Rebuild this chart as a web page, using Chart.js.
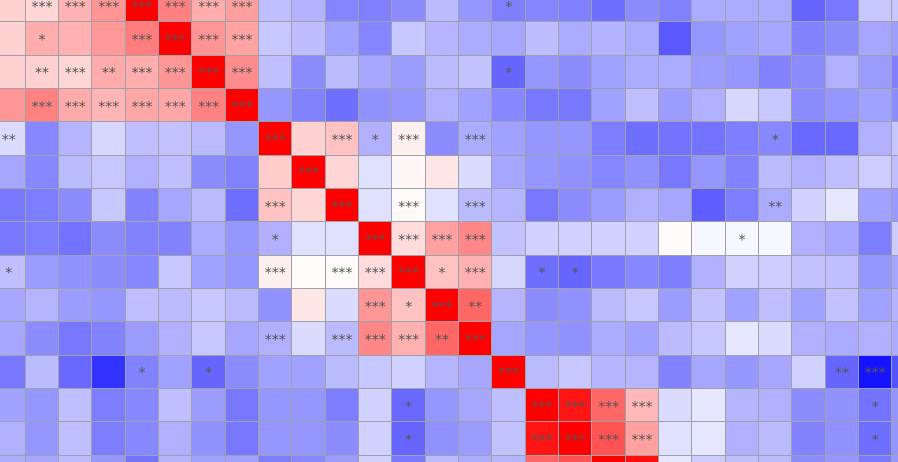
<!DOCTYPE html>
<html>
<head>
<meta charset="utf-8">
<script src="https://cdn.jsdelivr.net/npm/chart.js@4/dist/chart.umd.min.js"></script>
<style>
  html, body { margin: 0; padding: 0; background: #fff; }
  #wrap { width: 898px; height: 462px; }
</style>
</head>
<body>
<div id="wrap"><canvas id="heatmap"></canvas></div>
<script>
// correlation values, one array per visible row (28 visible columns)
const r0  = [0.18, 0.16, 0.30, 0.42, 1, 0.50, 0.32, 0.38, -0.25, -0.30, -0.48, -0.50, -0.45, -0.27, -0.41, -0.50, -0.48, -0.50, -0.57, -0.45, -0.49, -0.33, -0.33, -0.33, -0.60, -0.53, -0.22, -0.22];
const r1  = [0.18, 0.32, 0.31, 0.40, 0.51, 1, 0.42, 0.36, -0.22, -0.26, -0.37, -0.48, -0.22, -0.29, -0.33, -0.35, -0.26, -0.33, -0.30, -0.33, -0.65, -0.41, -0.37, -0.35, -0.49, -0.45, -0.35, -0.38];
const r2  = [0.18, 0.18, 0.16, 0.33, 0.32, 0.41, 1, 0.45, -0.25, -0.45, -0.27, -0.35, -0.39, -0.27, -0.24, -0.60, -0.41, -0.45, -0.37, -0.33, -0.33, -0.39, -0.41, -0.49, -0.45, -0.31, -0.39, -0.50];
const r3  = [0.41, 0.49, 0.33, 0.29, 0.35, 0.35, 0.49, 1, -0.41, -0.49, -0.57, -0.43, -0.41, -0.31, -0.37, -0.47, -0.53, -0.53, -0.37, -0.25, -0.39, -0.31, -0.16, -0.22, -0.45, -0.41, -0.37, -0.45];
const r4  = [-0.14, -0.47, -0.29, -0.16, -0.25, -0.24, -0.27, -0.41, 1, 0.18, 0.24, -0.31, 0.06, -0.45, -0.33, -0.37, -0.41, -0.41, -0.51, -0.57, -0.55, -0.55, -0.51, -0.47, -0.59, -0.59, -0.31, -0.22];
const r5  = [-0.35, -0.47, -0.27, -0.22, -0.31, -0.25, -0.45, -0.49, 0.20, 1, 0.16, -0.12, 0.03, 0.10, -0.14, -0.35, -0.41, -0.43, -0.47, -0.43, -0.53, -0.41, -0.49, -0.27, -0.31, -0.25, -0.20, -0.25];
const r6  = [-0.53, -0.51, -0.45, -0.22, -0.49, -0.35, -0.27, -0.57, 0.24, 0.16, 1, -0.12, 0.02, -0.12, -0.27, -0.29, -0.53, -0.45, -0.39, -0.31, -0.35, -0.63, -0.51, -0.33, -0.18, -0.10, -0.37, -0.40];
const r7  = [-0.53, -0.51, -0.55, -0.45, -0.49, -0.49, -0.33, -0.41, -0.31, -0.12, -0.12, 1, 0.14, 0.37, 0.47, -0.24, -0.18, -0.18, -0.18, -0.18, 0.02, -0.03, -0.03, -0.03, -0.31, -0.35, -0.51, -0.20];
const r8  = [-0.25, -0.39, -0.43, -0.45, -0.47, -0.22, -0.37, -0.41, 0.06, 0.01, 0.02, 0.14, 1, 0.24, 0.31, -0.16, -0.57, -0.60, -0.53, -0.47, -0.51, -0.31, -0.18, -0.20, -0.24, -0.25, -0.41, -0.35];
const r9  = [-0.35, -0.29, -0.39, -0.41, -0.25, -0.27, -0.22, -0.27, -0.43, 0.10, -0.14, 0.41, 0.24, 1, 0.60, -0.29, -0.45, -0.43, -0.27, -0.22, -0.39, -0.24, -0.37, -0.25, -0.37, -0.24, -0.37, -0.30];
const r10 = [-0.35, -0.45, -0.53, -0.49, -0.39, -0.31, -0.22, -0.35, -0.31, -0.14, -0.27, 0.47, 0.31, 0.60, 1, -0.35, -0.41, -0.43, -0.33, -0.37, -0.27, -0.22, -0.10, -0.14, -0.31, -0.33, -0.31, -0.33];
const r11 = [-0.53, -0.27, -0.59, -0.80, -0.49, -0.37, -0.60, -0.45, -0.37, -0.37, -0.27, -0.22, -0.18, -0.29, -0.35, 1, -0.27, -0.22, -0.29, -0.29, -0.49, -0.35, -0.41, -0.35, -0.18, -0.60, -0.92, -0.68];
const r12 = [-0.37, -0.41, -0.25, -0.51, -0.47, -0.25, -0.39, -0.53, -0.41, -0.41, -0.51, -0.18, -0.59, -0.41, -0.35, -0.25, 1, 0.92, 0.60, 0.28, -0.14, -0.10, -0.29, -0.31, -0.45, -0.43, -0.55, -0.42];
const r13 = [-0.31, -0.41, -0.25, -0.51, -0.47, -0.31, -0.43, -0.53, -0.41, -0.41, -0.45, -0.18, -0.60, -0.43, -0.39, -0.24, 0.92, 1, 0.68, 0.37, -0.12, -0.10, -0.31, -0.27, -0.49, -0.43, -0.57, -0.42];
const r14 = [-0.33, -0.35, -0.27, -0.41, -0.55, -0.30, -0.37, -0.37, -0.51, -0.47, -0.39, -0.18, -0.53, -0.27, -0.33, -0.29, 0.60, 0.68, 1, 0.95, -0.10, -0.20, -0.25, -0.27, -0.45, -0.41, -0.53, -0.41];
const rows = [r0, r1, r2, r3, r4, r5, r6, r7, r8, r9, r10, r11, r12, r13, r14];

// significance stars (count of "*") per cell
const s0  = [0,3,3,3,3,3,3,3,0,0,0,0,0,0,0,1,0,0,0,0,0,0,0,0,0,0,0,0];
const s1  = [0,1,0,0,3,3,3,3,0,0,0,0,0,0,0,0,0,0,0,0,0,0,0,0,0,0,0,0];
const s2  = [0,2,3,2,3,3,3,3,0,0,0,0,0,0,0,1,0,0,0,0,0,0,0,0,0,0,0,0];
const s3  = [0,3,3,3,3,3,3,3,0,0,0,0,0,0,0,0,0,0,0,0,0,0,0,0,0,0,0,0];
const s4  = [2,0,0,0,0,0,0,0,3,0,3,1,3,0,3,0,0,0,0,0,0,0,0,1,0,0,0,0];
const s5  = [0,0,0,0,0,0,0,0,0,3,0,0,0,0,0,0,0,0,0,0,0,0,0,0,0,0,0,0];
const s6  = [0,0,0,0,0,0,0,0,3,0,3,0,3,0,3,0,0,0,0,0,0,0,0,2,0,0,0,0];
const s7  = [0,0,0,0,0,0,0,0,1,0,0,3,3,3,3,0,0,0,0,0,0,0,1,0,0,0,0,0];
const s8  = [1,0,0,0,0,0,0,0,3,0,3,3,3,1,3,0,1,1,0,0,0,0,0,0,0,0,0,0];
const s9  = [0,0,0,0,0,0,0,0,0,0,0,3,1,3,2,0,0,0,0,0,0,0,0,0,0,0,0,0];
const s10 = [0,0,0,0,0,0,0,0,3,0,3,3,3,2,3,0,0,0,0,0,0,0,0,0,0,0,0,0];
const s11 = [0,0,0,0,1,0,1,0,0,0,0,0,0,0,0,3,0,0,0,0,0,0,0,0,0,2,3,0];
const s12 = [0,0,0,0,0,0,0,0,0,0,0,0,1,0,0,0,3,3,3,3,0,0,0,0,0,0,1,0];
const s13 = [0,0,0,0,0,0,0,0,0,0,0,0,1,0,0,0,3,3,3,3,0,0,0,0,0,0,1,0];
const s14 = [0,0,0,0,0,0,0,0,0,0,0,0,0,0,0,0,0,0,0,0,0,0,0,0,0,0,0,0];
const stars = [s0, s1, s2, s3, s4, s5, s6, s7, s8, s9, s10, s11, s12, s13, s14];

// blue - white - red scale
function cellColor(v) {
  if (v >= 0) {
    const g = Math.round(255 * (1 - v));
    return `rgb(255,${g},${g})`;
  }
  const g = Math.round(255 * (1 + v));
  return `rgb(${g},${g},255)`;
}

const datasets = rows.map((vals, r) => ({
  label: "row " + r,
  data: vals.map((v, c) => ({ x: c + 0.5, y: [r, r + 1] })),
  backgroundColor: vals.map(cellColor),
  borderWidth: 0,
  barPercentage: 1,
  categoryPercentage: 1,
  grouped: false
}));

// integer grid lines only (cell borders)
function cellTicks(scale) {
  const out = [];
  for (let v = Math.ceil(scale.min); v <= Math.floor(scale.max); v++) out.push({ value: v });
  scale.ticks = out;
}

const starLabels = {
  id: "starLabels",
  afterDatasetsDraw(chart) {
    const { ctx, scales: { x, y } } = chart;
    ctx.save();
    ctx.font = '14px "DejaVu Sans"';
    ctx.fillStyle = "#555";
    ctx.textAlign = "center";
    ctx.textBaseline = "middle";
    stars.forEach((row, r) => row.forEach((n, c) => {
      if (!n) return;
      ctx.fillText("*".repeat(n), x.getPixelForValue(c + 0.5), y.getPixelForValue(r + 0.5) + 2);
    }));
    ctx.restore();
  }
};

function axisStyle() {
  return {
    offset: false,
    ticks: { display: false },
    border: { display: false },
    grid: { color: "rgb(160,160,168)", lineWidth: 1, drawTicks: false, offset: false, z: 1 },
    afterBuildTicks: cellTicks
  };
}

new Chart(document.getElementById("heatmap"), {
  type: "bar",
  data: { datasets },
  options: {
    responsive: true,
    maintainAspectRatio: false,
    animation: false,
    layout: { padding: 0 },
    plugins: { legend: { display: false }, tooltip: { enabled: false } },
    scales: {
      x: Object.assign({ type: "linear", min: 0.241, max: 27.18 }, axisStyle()),
      y: Object.assign({ type: "linear", reverse: true, min: 0.349, max: 14.21 }, axisStyle())
    }
  },
  plugins: [starLabels]
});
</script>
</body>
</html>
